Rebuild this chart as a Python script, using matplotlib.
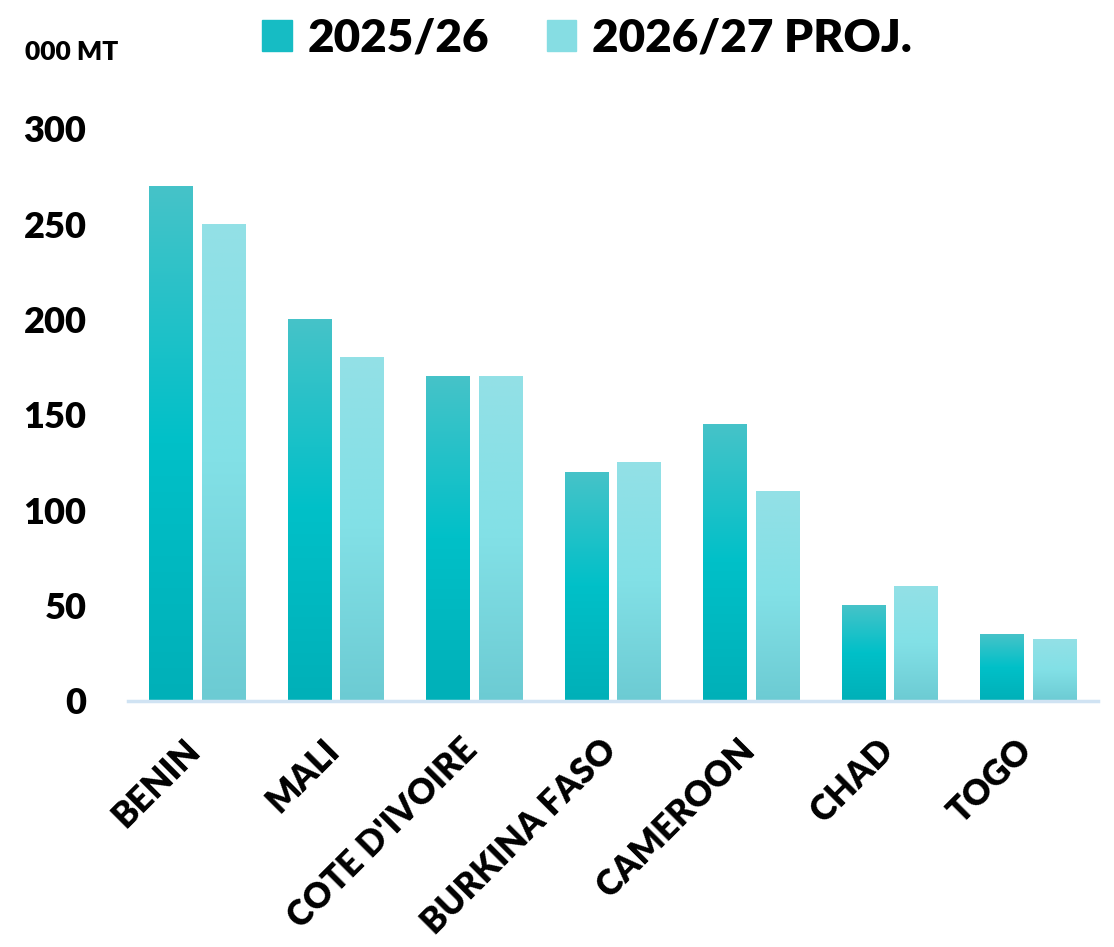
import numpy as np
import matplotlib.pyplot as plt
import matplotlib.transforms as mtransforms
from matplotlib.patches import Patch
from matplotlib.colors import LinearSegmentedColormap

plt.rcParams['font.family'] = ['Lato', 'DejaVu Sans']
plt.rcParams['font.weight'] = 'heavy'

countries = ['BENIN', 'MALI', "COTE D'IVOIRE", 'BURKINA FASO', 'CAMEROON', 'CHAD', 'TOGO']
season_2526 = [270, 200, 170, 120, 145, 50, 35]
season_2627 = [250, 180, 170, 125, 110, 60, 32]
series_names = ['2025/26', '2026/27 PROJ.']
yticks = [0, 50, 100, 150, 200, 250, 300]

# gradients, bottom -> middle -> top
dark_cmap = LinearSegmentedColormap.from_list('dark', ['#00b0b8', '#00c0c8', '#46c3c9'])
light_cmap = LinearSegmentedColormap.from_list('light', ['#6ccbd3', '#82e0e6', '#93e1e6'])

fig = plt.figure(figsize=(11.14, 9.47), dpi=100)
ax = fig.add_axes([0.115, 0.2598, 0.8706, 0.604])

x = np.arange(len(countries))
w = 0.317
off = 0.19
grad = np.linspace(0, 1, 256).reshape(-1, 1)

bars1 = ax.bar(x - off, season_2526, w, color='none')
bars2 = ax.bar(x + off, season_2627, w, color='none')
for bars, cmap in [(bars1, dark_cmap), (bars2, light_cmap)]:
    for b in bars:
        x0 = b.get_x()
        h = b.get_height()
        ax.imshow(grad, extent=[x0, x0 + b.get_width(), 0, h], origin='lower',
                  cmap=cmap, aspect='auto', zorder=2)

ax.set_xlim(-0.5, 6.5)
ax.set_ylim(0, 300)
ax.set_yticks(yticks)
ax.set_yticklabels([str(t) for t in yticks], fontsize=26, fontweight='heavy')
ax.set_xticks(x)
ax.set_xticklabels(countries, fontsize=25, fontweight='heavy', rotation=45,
                   ha='right', rotation_mode='anchor')
ax.tick_params(axis='both', length=0)
ax.tick_params(axis='y', pad=30)
ax.tick_params(axis='x', pad=23)

# nudge the x labels a bit left
shift = mtransforms.ScaledTranslation(-10 / 72, 0, fig.dpi_scale_trans)
for lab in ax.get_xticklabels():
    lab.set_transform(lab.get_transform() + shift)

for s in ['top', 'right', 'left']:
    ax.spines[s].set_visible(False)
ax.spines['bottom'].set_color('#d0e3f3')
ax.spines['bottom'].set_linewidth(2.5)

fig.text(0.022, 0.945, '000 MT', fontsize=19, fontweight='heavy', va='center')

handles = [Patch(color='#16bcc4'), Patch(color='#86dde3')]
fig.legend(handles, series_names, loc='upper center', bbox_to_anchor=(0.527, 1.025),
           ncol=2, frameon=False, prop={'size': 33, 'weight': 'heavy'},
           handlelength=0.65, handleheight=0.65, handletextpad=0.35, columnspacing=1.25)

plt.savefig('out.png', dpi=100)
